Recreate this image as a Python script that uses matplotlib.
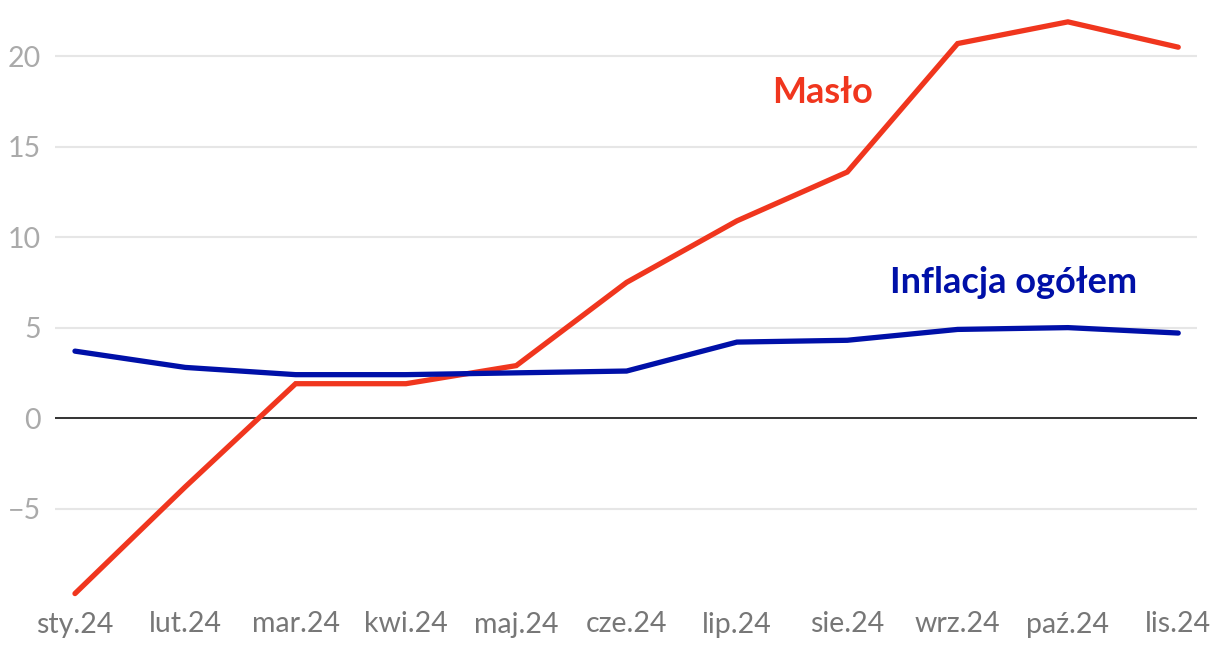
import matplotlib
matplotlib.use("Agg")
import matplotlib.pyplot as plt

plt.rcParams['font.family'] = ['Lato', 'DejaVu Sans']

months = ["sty.24", "lut.24", "mar.24", "kwi.24", "maj.24", "cze.24",
          "lip.24", "sie.24", "wrz.24", "paź.24", "lis.24"]
maslo = [-9.7, -3.8, 1.9, 1.9, 2.9, 7.5, 10.9, 13.6, 20.7, 21.9, 20.5]
inflacja = [3.7, 2.8, 2.4, 2.4, 2.5, 2.6, 4.2, 4.3, 4.9, 5.0, 4.7]
yticks = [-5, 0, 5, 10, 15, 20]

red = "#F0361E"
blue = "#0010A8"

fig = plt.figure(figsize=(12.2, 6.5), dpi=100)
ax = fig.add_axes([55/1220, 51/650, (1197-55)/1220, (639-51)/650])

x = list(range(len(months)))
ax.plot(x, maslo, color=red, lw=3.8, solid_capstyle='round', solid_joinstyle='miter', zorder=3)
ax.plot(x, inflacja, color=blue, lw=3.8, solid_capstyle='round', solid_joinstyle='miter', zorder=3)

ax.set_xlim(-0.181, 10.17)
ax.set_ylim(-10.0, 22.5)

ax.set_yticks(yticks)
ax.set_yticklabels([("\u2212" + str(-v)) if v < 0 else str(v) for v in yticks])
ax.set_xticks(x)
ax.set_xticklabels(months)

ax.grid(axis='y', color="#e6e6e6", lw=1.5, zorder=0)
ax.axhline(0, color="#333333", lw=1.4, zorder=2)
for s in ax.spines.values():
    s.set_visible(False)
ax.tick_params(axis='both', length=0, labelsize=20.5)
ax.tick_params(axis='y', colors="#aaaaaa", pad=10)
ax.tick_params(axis='x', colors="#777777", pad=9)
for lbl in ax.get_yticklabels():
    lbl.set_horizontalalignment('right')

ax.text(6.78, 18.0, "Masło", color=red, fontsize=26, fontweight='bold',
        ha='center', va='center')
ax.text(8.51, 7.5, "Inflacja ogółem", color=blue, fontsize=26, fontweight='bold',
        ha='center', va='center')

fig.savefig("out.png", dpi=100)
